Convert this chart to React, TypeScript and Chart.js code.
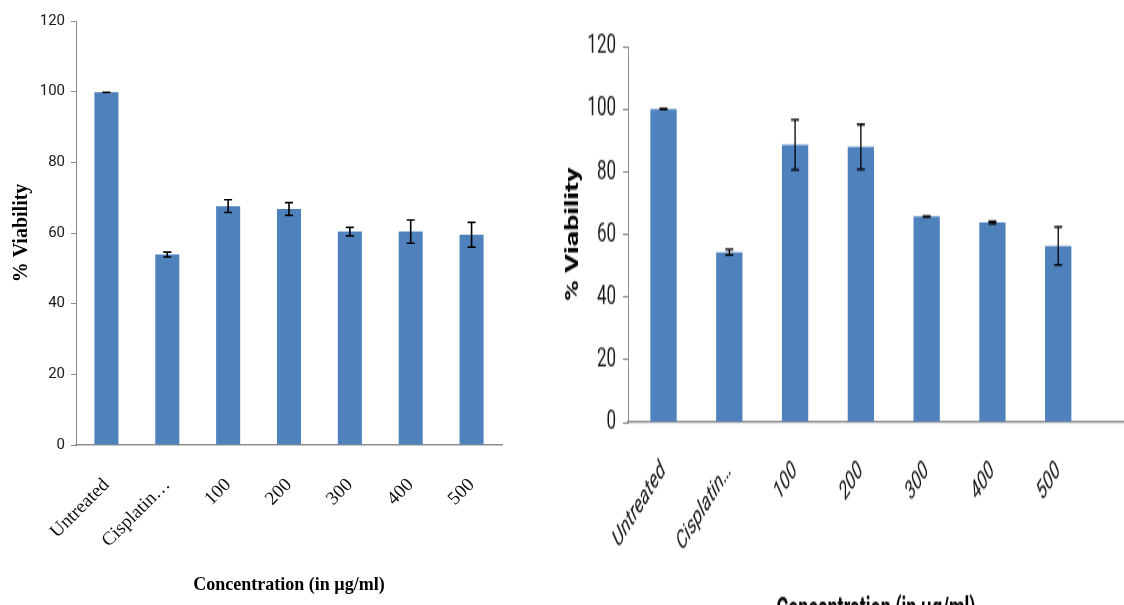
import React, { useEffect, useRef } from 'react';
import { Chart, registerables } from 'chart.js';

Chart.register(...registerables);

// Treatment groups on the x axis
const categories = ['Untreated', 'Cisplatin…', '100', '200', '300', '400', '500'];

// Panel 1: mean % viability and error (±) per group
const leftViability = [99.8, 53.9, 67.6, 66.8, 60.4, 60.4, 59.5];
const leftError = [0.05, 0.7, 1.8, 1.8, 1.2, 3.3, 3.5];

// Panel 2: mean % viability and error (±) per group
const rightViability = [100.0, 54.3, 88.6, 87.9, 65.7, 63.8, 56.3];
const rightError = [0.15, 0.9, 8.0, 7.2, 0.15, 0.4, 6.1];

const yMin = 0;
const yMax = 120;
const yStep = 20;

const BAR_BLUE = '#4f81bd';
const AXIS_GREY = '#8c8c8c';
const NARROW = '"Liberation Sans Narrow", "Roboto", "DejaVu Sans Condensed", sans-serif';
const SERIF = '"Liberation Serif", "DejaVu Serif", serif';

// Draws vertical error bars with caps on top of every bar
const errorBars = {
  id: 'errorBars',
  afterDatasetsDraw(chart: any, _args: any, opts: any) {
    const { ctx } = chart;
    const y = chart.scales.y;
    const meta = chart.getDatasetMeta(0);
    const values = chart.data.datasets[0].data;
    ctx.save();
    ctx.strokeStyle = opts.color;
    ctx.lineWidth = opts.lineWidth;
    meta.data.forEach((bar: any, i: number) => {
      const v = values[i].y;
      const e = opts.errors[i];
      const top = y.getPixelForValue(v + e);
      const bot = y.getPixelForValue(v - e);
      ctx.beginPath();
      ctx.moveTo(bar.x, top);
      ctx.lineTo(bar.x, bot);
      ctx.moveTo(bar.x - opts.cap, top);
      ctx.lineTo(bar.x + opts.cap, top);
      ctx.moveTo(bar.x - opts.cap, bot);
      ctx.lineTo(bar.x + opts.cap, bot);
      ctx.stroke();
    });
    ctx.restore();
  },
};

type PanelStyle = {
  width: number;
  height: number;
  padding: { left: number; right: number; top: number; bottom: number };
  yAxisWidth: number;
  xAxisHeight: number;
  xMin: number;
  xMax: number;
  barPercentage: number;
  yTickFont: any;
  yTickPadding: number;
  xTickFont: any;
  xTickPadding: number;
  yTitleFont: any;
  yTitlePad: number;
  xTitleFont: any;
  xTitlePad: number;
  borderWidthX: number;
  borderWidthY: number;
  errLineWidth: number;
  cap: number;
};

function buildConfig(values: number[], errors: number[], s: PanelStyle): any {
  return {
    type: 'bar',
    data: {
      datasets: [
        {
          data: values.map((v, i) => ({ x: i, y: v })),
          backgroundColor: BAR_BLUE,
          borderWidth: 0,
          barPercentage: s.barPercentage,
          categoryPercentage: 1,
        },
      ],
    },
    options: {
      responsive: false,
      animation: false,
      devicePixelRatio: 1,
      layout: { padding: s.padding },
      plugins: {
        legend: { display: false },
        tooltip: { enabled: false },
        errorBars: { errors, color: '#000', lineWidth: s.errLineWidth, cap: s.cap },
      },
      scales: {
        x: {
          type: 'linear',
          offset: false,
          min: s.xMin,
          max: s.xMax,
          afterBuildTicks: (scale: any) => {
            scale.ticks = categories.map((_, i) => ({ value: i }));
          },
          afterFit: (scale: any) => {
            scale.height = s.xAxisHeight;
          },
          grid: { display: false },
          border: { display: true, color: AXIS_GREY, width: s.borderWidthX },
          ticks: {
            autoSkip: false,
            minRotation: 45,
            maxRotation: 45,
            padding: s.xTickPadding,
            color: '#111',
            font: s.xTickFont,
            callback: (v: any) => categories[Math.round(Number(v))] ?? '',
          },
          title: {
            display: true,
            text: 'Concentration (in µg/ml)',
            color: '#000',
            font: s.xTitleFont,
            padding: { top: 0, bottom: s.xTitlePad },
          },
        },
        y: {
          min: yMin,
          max: yMax,
          afterFit: (scale: any) => {
            scale.width = s.yAxisWidth;
          },
          grid: {
            display: true,
            drawOnChartArea: false,
            drawTicks: true,
            tickLength: 5,
            color: AXIS_GREY,
            lineWidth: 1,
          },
          border: { display: true, color: AXIS_GREY, width: s.borderWidthY },
          ticks: {
            stepSize: yStep,
            padding: s.yTickPadding,
            color: '#1a1a1a',
            font: s.yTickFont,
          },
          title: {
            display: true,
            text: '% Viability',
            color: '#000',
            font: s.yTitleFont,
            padding: { top: s.yTitlePad, bottom: 0 },
          },
        },
      },
    },
    plugins: [errorBars],
  };
}

const leftStyle: PanelStyle = {
  width: 560,
  height: 605,
  padding: { left: 0, right: 58, top: 21, bottom: 0 },
  yAxisWidth: 76,
  xAxisHeight: 160,
  xMin: -0.5,
  xMax: 6.5,
  barPercentage: 0.395,
  yTickFont: { family: NARROW, size: 15 },
  yTickPadding: 6,
  xTickFont: { family: SERIF, size: 19 },
  xTickPadding: 21,
  yTitleFont: { family: SERIF, size: 20, weight: 'bold' },
  yTitlePad: 10,
  xTitleFont: { family: SERIF, size: 18, weight: 'bold' },
  xTitlePad: 9,
  borderWidthX: 1.5,
  borderWidthY: 1,
  errLineWidth: 1.6,
  cap: 4,
};

// The second panel is drawn compressed and then stretched vertically
const STRETCH = 1.6;

const rightStyle: PanelStyle = {
  width: 564,
  height: 395,
  padding: { left: 0, right: 0, top: 29, bottom: 0 },
  yAxisWidth: 68,
  xAxisHeight: 131,
  xMin: -0.54,
  xMax: 7.0,
  barPercentage: 0.4,
  yTickFont: { family: NARROW, size: 17 },
  yTickPadding: 7,
  xTickFont: { family: NARROW, size: 16, style: 'italic' },
  xTickPadding: 13,
  yTitleFont: { family: NARROW, size: 18, weight: 'bold' },
  yTitlePad: 3,
  xTitleFont: { family: NARROW, size: 18, weight: 'bold' },
  xTitlePad: 3,
  borderWidthX: 1.3,
  borderWidthY: 1,
  errLineWidth: 1.3,
  cap: 4,
};

function Panel({ values, errors, style }: { values: number[]; errors: number[]; style: PanelStyle }) {
  const ref = useRef<HTMLCanvasElement | null>(null);
  useEffect(() => {
    if (!ref.current) return;
    const chart = new Chart(ref.current, buildConfig(values, errors, style));
    return () => chart.destroy();
  }, [values, errors, style]);
  return <canvas ref={ref} width={style.width} height={style.height} style={{ display: 'block' }} />;
}

export default function App() {
  return (
    <div
      style={{
        position: 'fixed',
        left: 0,
        top: 0,
        width: 1124,
        height: 605,
        overflow: 'hidden',
        background: '#fff',
      }}
    >
      <div style={{ position: 'absolute', left: 0, top: 0 }}>
        <Panel values={leftViability} errors={leftError} style={leftStyle} />
      </div>
      <div
        style={{
          position: 'absolute',
          left: 560,
          top: 0,
          transform: `scaleY(${STRETCH})`,
          transformOrigin: '0 0',
        }}
      >
        <Panel values={rightViability} errors={rightError} style={rightStyle} />
      </div>
    </div>
  );
}
